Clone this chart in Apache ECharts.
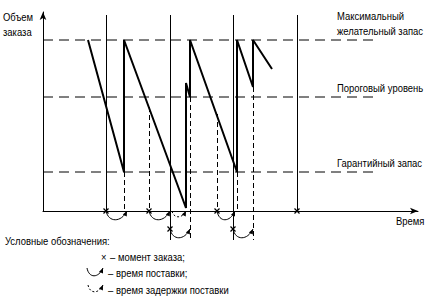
<!DOCTYPE html>
<html><head><meta charset="utf-8">
<script src="https://cdn.jsdelivr.net/npm/echarts@6/dist/echarts.min.js"></script>
<style>html,body{margin:0;padding:0;background:#fff}#c{width:436px;height:300px}</style>
</head><body><div id="c"></div>
<script>
// ---- data (time units along the axis, stock units up the axis) ----
const levelNames = [['Максимальный', 'желательный запас'], ['Пороговый уровень'], ['Гарантийный запас']];
const levelValues = [171, 114, 39];
const levelEnd = 335;

// stock curve
const stockTime  = [45, 81, 81, 143, 143, 147, 147, 194, 194, 210, 210, 229];
const stockLevel = [171, 39, 171, 3, 128, 114, 171, 39, 171, 124, 171, 142];

// fixed order moments (thin solid verticals)
const orderTime = [63, 127, 190, 254];
const orderTop = 196;
const orderBottom = [0, -29, -29, 0];

// event moments (thin dashed verticals)
const eventTime   = [81, 106, 147, 174, 194, 210];
const eventTop    = [39, 104, 114, 97, 39, 124];
const eventBottom = [0, 0, -29, 0, 0, -29];

// delivery arcs: start, end, base level, dashed (1 = delay)
const arcStart  = [63, 106, 174, 129, 127, 190];
const arcEnd    = [84, 127, 192, 143, 147, 210];
const arcBase   = [0, 0, 0, 0, -18, -18];
const arcDashed = [0, 0, 0, 1, 0, 0];

// order marks (x)
const markTime  = [63, 106, 174, 254, 127, 190];
const markLevel = [0, 0, 0, 0, -18, -18];

// axis extents
const timeMax = 375;
const stockMax = 199;

const FONT = '11px "Liberation Sans", Arial, sans-serif';
const NARROW = 0.86;

function arrowHead(tx, ty, dx, dy, len, half) {
  const l = Math.hypot(dx, dy); const ux = dx / l, uy = dy / l;
  const bx = tx - ux * len, by = ty - uy * len;
  return [[tx, ty], [bx - uy * half, by + ux * half], [bx + uy * half, by - ux * half]];
}

function arcShape(x0, y0, x1, y1, d, dashed) {
  const w = x1 - x0;
  const c2x = x0 + 0.72 * w, c2y = y0 + 1.3 * d;
  return [
    { type: 'bezierCurve', shape: { x1: x0, y1: y0, cpx1: x0 + 0.12 * w, cpy1: y0 + 1.3 * d, cpx2: c2x, cpy2: c2y, x2: x1, y2: y1 },
      style: { stroke: '#000', lineWidth: 1, fill: 'none', lineDash: dashed ? [2, 2] : null } },
    { type: 'polygon', shape: { points: arrowHead(x1, y1, x1 - c2x, y1 - c2y, 5, 2.2) }, style: { fill: '#000' } }
  ];
}

function renderSeg(params, api) {
  const a = api.coord([api.value(0), api.value(1)]);
  const b = api.coord([api.value(0), api.value(2)]);
  const x = Math.round(a[0]) + 0.5;
  return { type: 'line', shape: { x1: x, y1: a[1], x2: x, y2: b[1] },
    style: { stroke: '#000', lineWidth: 1, lineDash: api.value(3) ? [5, 3] : null } };
}
function renderArc(params, api) {
  const a = api.coord([api.value(0), api.value(2)]);
  const b = api.coord([api.value(1), api.value(2)]);
  const dashed = api.value(3) === 1;
  return { type: 'group', children: arcShape(a[0], a[1], b[0], b[1], dashed ? 6 : 9, dashed) };
}
function renderMark(params, api) {
  const p = api.coord([api.value(0), api.value(1)]);
  const s = 2.5;
  return { type: 'group', children: [
    { type: 'line', shape: { x1: p[0] - s, y1: p[1] - s, x2: p[0] + s, y2: p[1] + s }, style: { stroke: '#000', lineWidth: 1.3 } },
    { type: 'line', shape: { x1: p[0] - s, y1: p[1] + s, x2: p[0] + s, y2: p[1] - s }, style: { stroke: '#000', lineWidth: 1.3 } }
  ] };
}

const chart = echarts.init(document.getElementById('c'), null, { renderer: 'svg' });

const series = [];
levelValues.forEach(v => series.push({
  type: 'line', data: [[0, v], [levelEnd, v]], symbol: 'none', silent: true, clip: false,
  lineStyle: { color: '#000', width: 1, type: [10, 6] }
}));
series.push({
  type: 'line', data: stockTime.map((t, i) => [t, stockLevel[i]]), symbol: 'none', clip: false,
  lineStyle: { color: '#000', width: 2 }
});
series.push({ type: 'custom', renderItem: renderSeg, encode: { x: 0, y: [1, 2] },
  data: orderTime.map((t, i) => [t, orderTop, orderBottom[i], 0]) });
series.push({ type: 'custom', renderItem: renderSeg, encode: { x: 0, y: [1, 2] },
  data: eventTime.map((t, i) => [t, eventTop[i], eventBottom[i], 1]) });
series.push({ type: 'custom', renderItem: renderArc, encode: { x: [0, 1], y: 2 },
  data: arcStart.map((s, i) => [s, arcEnd[i], arcBase[i], arcDashed[i]]) });
series.push({ type: 'custom', renderItem: renderMark, encode: { x: 0, y: 1 },
  data: markTime.map((t, i) => [t, markLevel[i]]) });

const axisCommon = {
  type: 'value', axisTick: { show: false }, axisLabel: { show: false }, splitLine: { show: false },
  axisLine: { show: true, onZero: false, symbol: ['none', 'arrow'], symbolSize: [5, 8], lineStyle: { color: '#000', width: 1 } }
};

chart.setOption({
  animation: false,
  backgroundColor: '#fff',
  grid: { left: 43, top: 12, width: 375, height: 199 },
  xAxis: Object.assign({ min: 0, max: timeMax }, axisCommon),
  yAxis: Object.assign({ min: 0, max: stockMax }, axisCommon),
  series: series
});

// texts
const txt = (x, y, text) => ({ type: 'text', x: x, y: y, scaleX: NARROW, silent: true,
  style: { text: text, font: FONT, fill: '#000', align: 'left', verticalAlign: 'middle' } });
const g = [];
g.push(txt(3, 17, 'Объем'), txt(3, 32, 'заказа'));
levelNames.forEach((lines, i) => {
  const p = chart.convertToPixel({ gridIndex: 0 }, [levelEnd - 41, levelValues[i]]);
  const n = lines.length;
  lines.forEach((s, j) => g.push(txt(p[0], p[1] - 9 - (n - 1 - j) * 15, s)));
});
g.push(txt(396, 221, 'Время'));
g.push(txt(5, 241, 'Условные обозначения:'));
g.push(txt(101, 257, '×'), txt(110, 257, '– момент заказа;'));
g.push({ type: 'group', children: arcShape(87, 268, 103, 268, 8, false) });
g.push(txt(108, 273, '– время поставки;'));
g.push({ type: 'group', children: arcShape(88, 285, 103, 285, 7, true) });
g.push(txt(108, 290, '– время задержки поставки'));
chart.setOption({ graphic: g });
</script>
</body></html>
